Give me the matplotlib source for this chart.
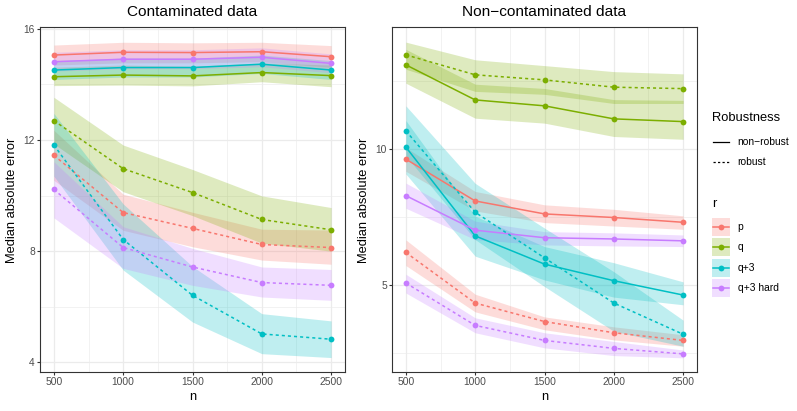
import matplotlib
matplotlib.use("Agg")
import matplotlib.pyplot as plt
import numpy as np
from matplotlib.lines import Line2D
from matplotlib.patches import Rectangle

plt.rcParams['font.family'] = ['Liberation Sans', 'DejaVu Sans']

# ---------------- data ----------------
n = [500, 1000, 1500, 2000, 2500]
categories = ['p', 'q', 'q+3', 'q+3 hard']
colors = ['#F8766D', '#7CAE00', '#00BFC4', '#C77CFF']
panel_titles = ['Contaminated data', 'Non\u2212contaminated data']
robust_labels = ['non\u2212robust', 'robust']

# Contaminated data, non-robust (order: p, q, q+3, q+3 hard)
cont_nonrobust_med = [[15.06, 15.16, 15.15, 15.18, 15.00],
                      [14.28, 14.34, 14.31, 14.43, 14.32],
                      [14.52, 14.61, 14.61, 14.73, 14.52],
                      [14.82, 14.91, 14.91, 14.98, 14.76]]
cont_nonrobust_lo = [[14.70, 14.78, 14.78, 14.82, 14.62],
                     [13.96, 13.98, 13.95, 14.10, 13.92],
                     [14.18, 14.27, 14.27, 14.40, 14.18],
                     [14.48, 14.57, 14.57, 14.64, 14.42]]
cont_nonrobust_hi = [[15.42, 15.52, 15.50, 15.52, 15.40],
                     [14.62, 14.70, 14.66, 14.78, 14.70],
                     [14.86, 14.95, 14.95, 15.06, 14.86],
                     [15.16, 15.25, 15.25, 15.32, 15.10]]
# Contaminated data, robust
cont_robust_med = [[11.45, 9.39, 8.82, 8.24, 8.13],
                   [12.70, 10.97, 10.11, 9.14, 8.77],
                   [11.82, 8.42, 6.41, 5.02, 4.83],
                   [10.22, 8.13, 7.43, 6.87, 6.77]]
cont_robust_lo = [[10.55, 8.75, 8.16, 7.68, 7.53],
                  [11.86, 10.14, 9.28, 8.29, 8.00],
                  [10.70, 7.32, 5.45, 4.31, 4.17],
                  [9.20, 7.38, 6.77, 6.35, 6.23]]
cont_robust_hi = [[12.35, 10.05, 9.40, 8.79, 8.76],
                  [13.54, 11.82, 10.94, 9.99, 9.57],
                  [12.96, 9.70, 7.45, 5.75, 5.49],
                  [11.22, 8.88, 8.10, 7.43, 7.34]]
# Non-contaminated data, non-robust
clean_nonrobust_med = [[9.49, 7.67, 7.18, 7.05, 6.88],
                       [15.34, 12.83, 12.45, 11.65, 11.49],
                       [10.09, 6.42, 5.56, 5.11, 4.75],
                       [7.88, 6.61, 6.36, 6.32, 6.26]]
clean_nonrobust_lo = [[8.92, 7.29, 6.87, 6.75, 6.64],
                      [13.97, 11.69, 11.40, 10.65, 10.50],
                      [8.80, 5.79, 5.13, 4.70, 4.52],
                      [7.39, 6.30, 6.13, 6.10, 6.08]]
clean_nonrobust_hi = [[10.06, 8.05, 7.52, 7.35, 7.11],
                      [16.60, 13.90, 13.60, 12.85, 12.80],
                      [11.55, 7.10, 6.08, 5.60, 5.08],
                      [8.40, 6.92, 6.56, 6.52, 6.45]]
# Non-contaminated data, robust
clean_robust_med = [[5.90, 4.56, 4.15, 3.92, 3.77],
                    [16.14, 14.58, 14.21, 13.69, 13.59],
                    [10.96, 7.24, 5.74, 4.56, 3.89],
                    [5.05, 4.07, 3.77, 3.62, 3.52]]
clean_robust_lo = [[5.52, 4.36, 3.98, 3.78, 3.66],
                   [15.00, 13.40, 13.20, 12.60, 12.60],
                   [9.65, 6.30, 4.96, 3.95, 3.66],
                   [4.80, 3.92, 3.63, 3.49, 3.45]]
clean_robust_hi = [[6.29, 4.77, 4.25, 4.04, 3.88],
                   [17.22, 15.74, 15.28, 14.82, 14.65],
                   [12.45, 8.39, 6.68, 5.35, 4.18],
                   [5.28, 4.23, 3.92, 3.75, 3.59]]

x_ticks = [500, 1000, 1500, 2000, 2500]
left_yticks = [4, 8, 12, 16]
right_yticks = [5, 10]

# ---------------- figure ----------------
W, H = 797, 411
fig = plt.figure(figsize=(W / 100, H / 100), dpi=100)
fig.patch.set_facecolor('white')


def fx(x):
    return x / W


def fy(y):
    return 1 - y / H


ax1 = fig.add_axes([fx(40), fy(372), 305 / W, 345 / H])
ax2 = fig.add_axes([fx(392), fy(372), 305 / W, 345 / H])

panels = [
    (ax1, [(cont_nonrobust_med, cont_nonrobust_lo, cont_nonrobust_hi, '-'),
           (cont_robust_med, cont_robust_lo, cont_robust_hi, '--')]),
    (ax2, [(clean_nonrobust_med, clean_nonrobust_lo, clean_nonrobust_hi, '-'),
           (clean_robust_med, clean_robust_lo, clean_robust_hi, '--')]),
]

ALPHA = 0.25
LW = 1.1
MS = 4.2

for ax, groups in panels:
    ax.set_facecolor('white')
    # ribbons
    for med, lo, hi, ls in groups:
        for i, c in enumerate(colors):
            ax.fill_between(n, lo[i], hi[i], color=c, alpha=ALPHA, lw=0, zorder=2)
    # lines
    for med, lo, hi, ls in groups:
        for i, c in enumerate(colors):
            if ls == '-':
                ax.plot(n, med[i], color=c, lw=LW, zorder=3, solid_capstyle='butt')
            else:
                ax.plot(n, med[i], color=c, lw=LW, zorder=3, dashes=(2.0, 2.0))
    # points
    for med, lo, hi, ls in groups:
        for i, c in enumerate(colors):
            ax.plot(n, med[i], 'o', color=c, ms=MS, mec='none', zorder=4)

    ax.set_xlim(400, 2600)
    ax.set_xticks(x_ticks)
    ax.set_xticks([750, 1250, 1750, 2250], minor=True)
    ax.grid(True, which='major', color='#EBEBEB', lw=0.9, zorder=0)
    ax.grid(True, which='minor', color='#EBEBEB', lw=0.45, zorder=0)
    ax.set_axisbelow(True)
    for s in ax.spines.values():
        s.set_color('#333333')
        s.set_linewidth(0.8)
    ax.tick_params(which='major', direction='out', length=2.2, width=0.8,
                   color='#333333', labelcolor='#4D4D4D', labelsize=7.4, pad=1.5)
    ax.tick_params(which='minor', length=0)

ax1.set_ylim(3.65, 16.07)
ax1.set_yticks(left_yticks)
ax1.set_yticklabels([str(v) for v in left_yticks])
ax1.set_yticks([6, 10, 14], minor=True)

ax2.set_yscale('log')
ax2.set_ylim(3.21, 18.6)
ax2.set_yticks(right_yticks)
ax2.set_yticklabels([str(v) for v in right_yticks])
ax2.set_yticks([np.sqrt(12.5), np.sqrt(50), np.sqrt(200)], minor=True)
ax2.yaxis.set_minor_formatter(matplotlib.ticker.NullFormatter())

for ax in (ax1, ax2):
    ax.set_xticklabels([str(v) for v in x_ticks])

# titles & axis labels
fig.text(fx(192.5), fy(12), panel_titles[0], ha='center', va='center', fontsize=11.1)
fig.text(fx(544.5), fy(12), panel_titles[1], ha='center', va='center', fontsize=11.1)
fig.text(fx(192.5), fy(397), 'n', ha='center', va='center', fontsize=9.25)
fig.text(fx(544.5), fy(397), 'n', ha='center', va='center', fontsize=9.25)
fig.text(fx(12), fy(200), 'Median absolute error', rotation=90, ha='center', va='center', fontsize=9.25)
fig.text(fx(364), fy(200), 'Median absolute error', rotation=90, ha='center', va='center', fontsize=9.25)

# ---------------- legend (manual) ----------------
fig.text(fx(712), fy(118), 'Robustness', ha='left', va='center', fontsize=9.25)
for j, (lab, ls) in enumerate(zip(robust_labels, ['-', '--'])):
    yy = 141.7 + j * 20
    kw = dict(dashes=(1.8, 1.8)) if ls == '--' else {}
    fig.add_artist(Line2D([fx(712.5), fx(728.5)], [fy(yy), fy(yy)], color='black', lw=0.9,
                          transform=fig.transFigure, **kw))
    fig.text(fx(737.5), fy(yy), lab, ha='left', va='center', fontsize=7.4)

fig.text(fx(712), fy(204), 'r', ha='left', va='center', fontsize=9.25)
for i, (lab, c) in enumerate(zip(categories, colors)):
    yy = 226.7 + i * 20.4
    fig.add_artist(Rectangle((fx(712), fy(yy + 9)), 18 / W, 18 / H, facecolor=c, alpha=ALPHA,
                             edgecolor='none', transform=fig.transFigure))
    fig.add_artist(Line2D([fx(713), fx(729)], [fy(yy), fy(yy)], color=c, lw=LW,
                          transform=fig.transFigure))
    fig.add_artist(Line2D([fx(721)], [fy(yy)], marker='o', color=c, ms=MS, mec='none',
                          transform=fig.transFigure))
    fig.text(fx(737.5), fy(yy), lab, ha='left', va='center', fontsize=7.4)

fig.savefig('out.png', dpi=100, facecolor='white')
